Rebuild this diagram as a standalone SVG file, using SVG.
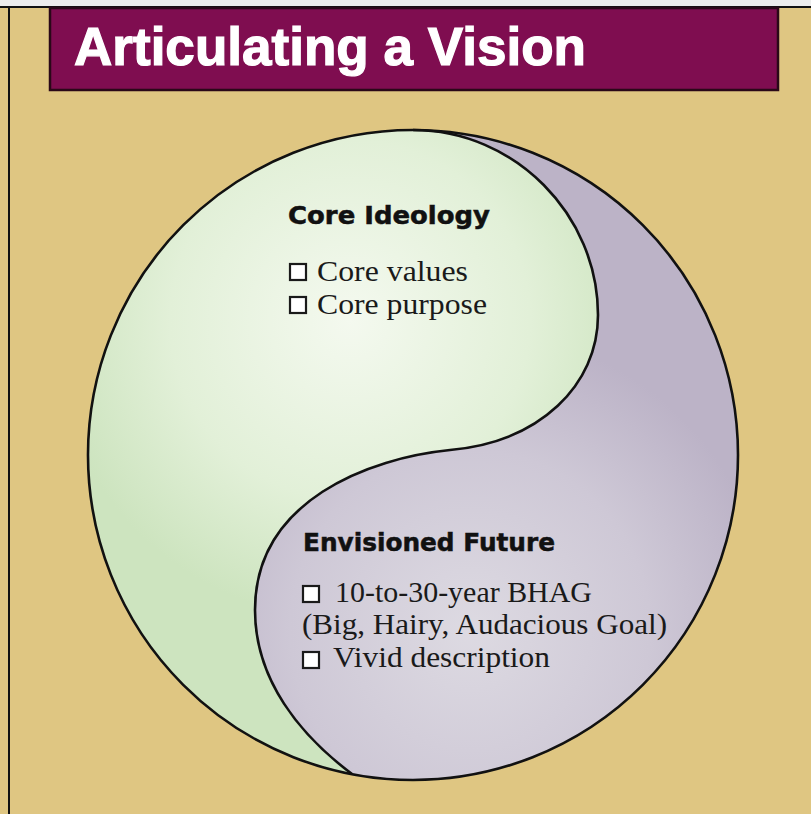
<svg xmlns="http://www.w3.org/2000/svg" width="811" height="814" viewBox="0 0 811 814">
<defs>
<radialGradient id="gGreen" gradientUnits="userSpaceOnUse" cx="350" cy="320" r="300">
<stop offset="0" stop-color="#F4F9EF"/>
<stop offset="0.6" stop-color="#E2F0D8"/>
<stop offset="1" stop-color="#CDE4BF"/>
</radialGradient>
<radialGradient id="gPurple" gradientUnits="userSpaceOnUse" cx="470" cy="630" r="300">
<stop offset="0" stop-color="#DDDAE2"/>
<stop offset="0.6" stop-color="#CEC8D6"/>
<stop offset="1" stop-color="#BCB3C7"/>
</radialGradient>
<clipPath id="disc">
<circle cx="413" cy="455" r="325"/>
</clipPath>
<style>
.head{font-family:"DejaVu Sans","Liberation Sans",sans-serif;font-weight:bold;font-size:24px;fill:#111;stroke:#111;stroke-width:0.5}
.item{font-family:"Liberation Serif","DejaVu Serif",serif;font-size:29px;fill:#1a1a1a}
.box{fill:#fff;stroke:#1a1a1a;stroke-width:2.2}
.edge{fill:none;stroke:#111;stroke-width:2.6}
</style>
</defs>
<rect x="0" y="0" width="811" height="814" fill="#DFC682"/>
<rect x="0" y="0" width="811" height="6" fill="#ECECEC"/>
<line x1="0" y1="7" x2="811" y2="7" stroke="#111" stroke-width="2"/>
<line x1="9" y1="6" x2="9" y2="814" stroke="#111" stroke-width="2"/>
<g id="title">
<rect x="50" y="8" width="728" height="82" fill="#7F0D50" stroke="#2A0818" stroke-width="2.5"/>
<text x="74" y="65" font-family="Liberation Sans, Arial, sans-serif" font-weight="bold" font-size="53" fill="#FFFFFF" stroke="#FFFFFF" stroke-width="1.2" textLength="512" lengthAdjust="spacingAndGlyphs">Articulating a Vision</text>
</g>
<g id="circle">
<circle cx="413" cy="455" r="325" fill="url(#gGreen)"/>
<path id="future-region" clip-path="url(#disc)" d="M413,130 C515,130 598,215 598,315 C598,385 540,442 450,450 C370,458 255,500 255,610 C255,680 300,735 352,774 L360,800 L800,800 L800,100 L413,100 Z" fill="url(#gPurple)"/>
</g>
<g id="connectors">
<path class="edge" d="M413,130 C515,130 598,215 598,315 C598,385 540,442 450,450 C370,458 255,500 255,610 C255,680 300,735 352,774"/>
<circle class="edge" cx="413" cy="455" r="325"/>
</g>
<g id="core-ideology">
<text class="head" x="288" y="224" textLength="202" lengthAdjust="spacingAndGlyphs">Core Ideology</text>
<rect class="box" x="290" y="264" width="16" height="16"/>
<text class="item" x="317" y="281" textLength="151" lengthAdjust="spacingAndGlyphs">Core values</text>
<rect class="box" x="290" y="297" width="16" height="16"/>
<text class="item" x="317" y="314" textLength="170" lengthAdjust="spacingAndGlyphs">Core purpose</text>
</g>
<g id="envisioned-future">
<text class="head" x="303" y="551" textLength="252" lengthAdjust="spacingAndGlyphs">Envisioned Future</text>
<rect class="box" x="303" y="586" width="16" height="16"/>
<text class="item" x="335" y="602" textLength="257" lengthAdjust="spacingAndGlyphs">10-to-30-year BHAG</text>
<text class="item" x="302" y="634" textLength="365" lengthAdjust="spacingAndGlyphs">(Big, Hairy, Audacious Goal)</text>
<rect class="box" x="303" y="652" width="16" height="16"/>
<text class="item" x="333" y="667" textLength="217" lengthAdjust="spacingAndGlyphs">Vivid description</text>
</g>
</svg>
